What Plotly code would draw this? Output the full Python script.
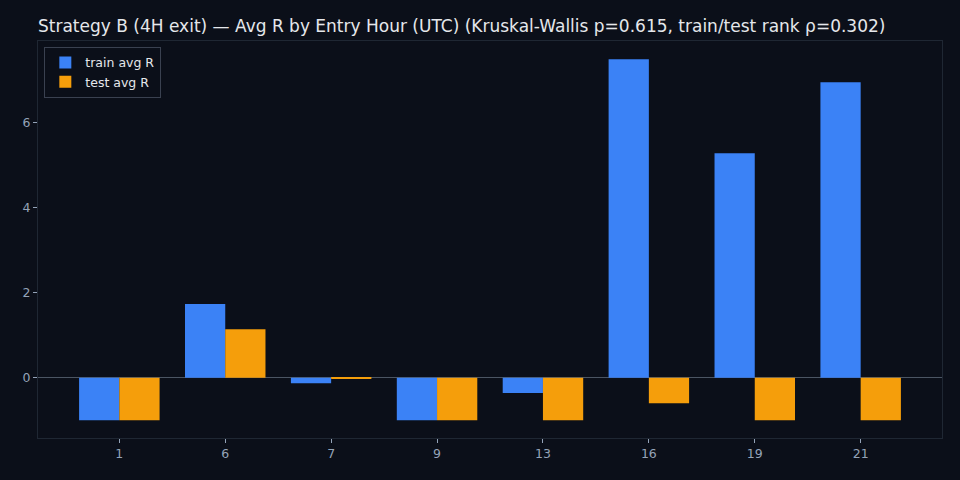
import plotly.graph_objects as go

hours = ["1", "6", "7", "9", "13", "16", "19", "21"]
train_avg_r = [-1.0, 1.73, -0.13, -1.0, -0.36, 7.49, 5.28, 6.95]
test_avg_r = [-1.0, 1.14, -0.03, -1.0, -1.0, -0.60, -1.0, -1.0]

idx = list(range(len(hours)))
BG = "#0b0f19"
FONT = "DejaVu Sans"

fig = go.Figure()
fig.add_trace(go.Bar(x=idx, y=train_avg_r, name="train avg R", marker=dict(color="#3b82f6", line=dict(width=0))))
fig.add_trace(go.Bar(x=idx, y=test_avg_r, name="test avg R", marker=dict(color="#f59e0b", line=dict(width=0))))

fig.update_layout(
    width=960, height=480,
    paper_bgcolor=BG, plot_bgcolor=BG,
    margin=dict(l=38, r=18, t=41, b=42),
    barmode="group", bargap=0.24, bargroupgap=0,
    font=dict(family=FONT, color="#94a3b8", size=11),
    title=dict(
        text="Strategy B (4H exit) — Avg R by Entry Hour (UTC) (Kruskal-Wallis p=0.615, train/test rank ρ=0.302)",
        x=38/960, xanchor="left", xref="container",
        y=1 - 26/480, yanchor="middle", yref="container",
        font=dict(family=FONT, size=17, color="#e5e7eb"),
    ),
    legend=dict(
        x=0.007, y=0.985, xanchor="left", yanchor="top",
        bgcolor=BG, bordercolor="#3a4150", borderwidth=1,
        font=dict(family=FONT, size=12.5, color="#e5e7eb"),
    ),
    showlegend=True,
)
fig.update_xaxes(
    tickmode="array", tickvals=idx, ticktext=hours,
    range=[-0.768, 7.768],
    showgrid=False, zeroline=False,
    showline=True, linecolor="#1f2733", linewidth=1, mirror=True,
    ticks="outside", ticklen=4, tickcolor="#94a3b8",
    tickfont=dict(family=FONT, size=12.5, color="#94a3b8"),
)
fig.update_yaxes(
    range=[-1.42, 7.92], tickmode="array", tickvals=[0, 2, 4, 6],
    showgrid=False,
    zeroline=True, zerolinecolor="#4b5563", zerolinewidth=1,
    showline=True, linecolor="#1f2733", linewidth=1, mirror=True,
    ticks="outside", ticklen=4, tickcolor="#94a3b8",
    tickfont=dict(family=FONT, size=12.5, color="#94a3b8"),
)

fig.write_html(
    "out.html",
    config={"displayModeBar": False},
    post_script="document.body.style.margin='0';document.body.style.background='#0b0f19';document.body.style.overflow='hidden';",
)
